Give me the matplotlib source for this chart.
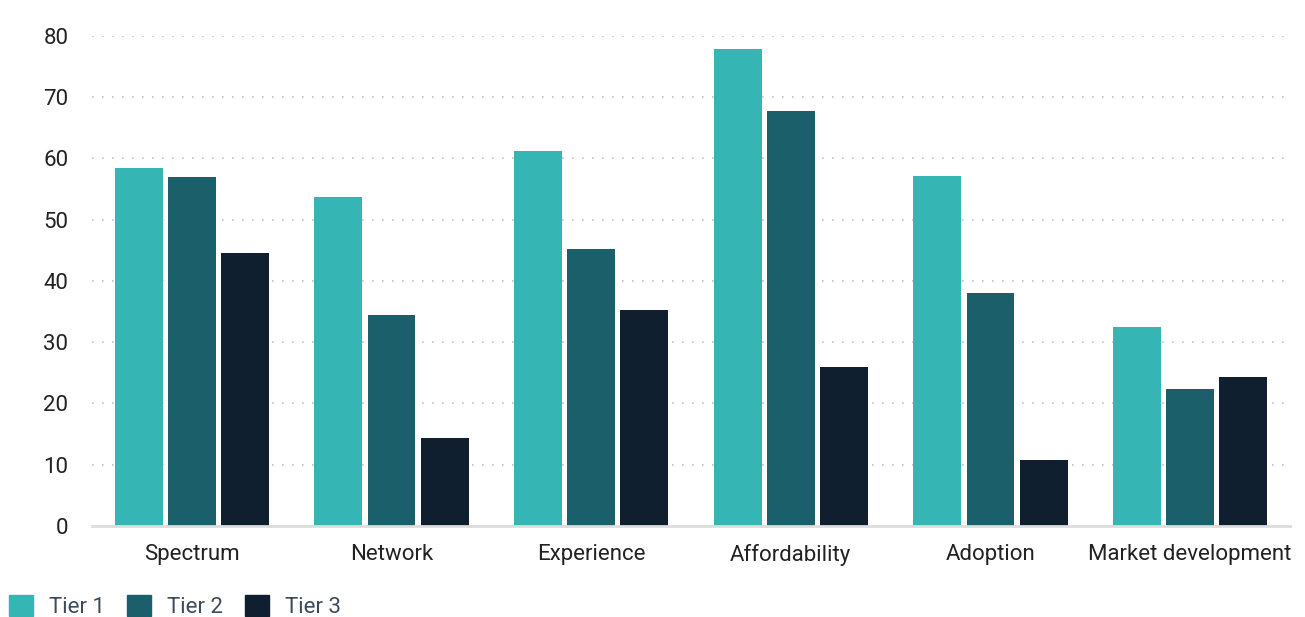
import numpy as np
import matplotlib.pyplot as plt
from matplotlib.patches import Patch

categories = ["Spectrum", "Network", "Experience", "Affordability", "Adoption", "Market development"]
tier1 = [58.4, 53.7, 61.2, 77.9, 57.1, 32.5]
tier2 = [57.0, 34.4, 45.2, 67.8, 38.0, 22.4]
tier3 = [44.6, 14.4, 35.3, 26.0, 10.8, 24.3]
series_names = ["Tier 1", "Tier 2", "Tier 3"]
colors = ["#35b6b4", "#1a5f6a", "#0f1f2f"]

plt.rcParams['font.family'] = ['Roboto', 'DejaVu Sans']

fig = plt.figure(figsize=(13.05, 6.17), dpi=100)
ax = fig.add_axes([0.0705, 0.1475, 0.918, 0.7942])

x = np.arange(len(categories))
w = 0.24
step = 0.266
for i, (vals, c) in enumerate(zip([tier1, tier2, tier3], colors)):
    ax.bar(x + (i - 1) * step, vals, width=w, color=c, zorder=3)

ax.set_xlim(-0.5, 5.5)
ax.set_ylim(0, 80)
ax.set_yticks(range(0, 81, 10))
ax.set_xticks(x)
ax.set_xticklabels(categories)
ax.tick_params(axis='both', length=0, labelsize=16, colors="#222222")
ax.tick_params(axis='x', pad=13)
ax.tick_params(axis='y', pad=17)
ax.grid(axis='y', linestyle=(0, (1, 5)), color="#c4c4c4", linewidth=1.2, zorder=0)
for s in ["top", "right", "left"]:
    ax.spines[s].set_visible(False)
ax.spines["bottom"].set_color("#dddddd")
ax.spines["bottom"].set_linewidth(2)
ax.spines["bottom"].set_zorder(4)

handles = [Patch(color=c, label=n) for c, n in zip(colors, series_names)]
leg = fig.legend(handles=handles, loc="lower left", bbox_to_anchor=(-0.002, -0.02), ncol=3,
                 frameon=False, fontsize=16, handlelength=1.1, handleheight=1.1,
                 handletextpad=0.7, columnspacing=1.0, borderaxespad=0.3, borderpad=0.2)
for t in leg.get_texts():
    t.set_color("#3d4a5a")

fig.savefig("out.png", dpi=100)
